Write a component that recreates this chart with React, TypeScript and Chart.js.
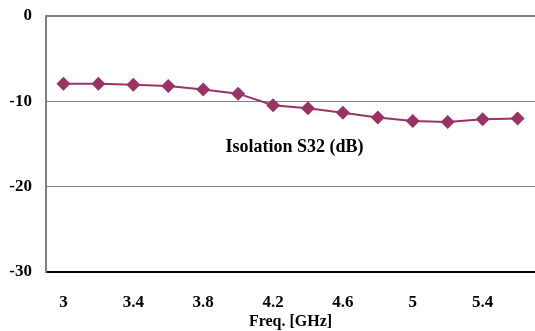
import React, { useEffect, useRef } from "react";
import { Chart, registerables } from "chart.js";

Chart.register(...registerables);

const freqs = ["3", "3.2", "3.4", "3.6", "3.8", "4", "4.2", "4.4", "4.6", "4.8", "5", "5.2", "5.4", "5.6"];
const isolationS32 = [-7.95, -7.95, -8.07, -8.2, -8.6, -9.1, -10.45, -10.8, -11.35, -11.9, -12.3, -12.43, -12.1, -12.0];
const seriesLabel = "Isolation S32 (dB)";
const xTitle = "Freq. [GHz]";

const innerLabel = {
  id: "innerLabel",
  afterDatasetsDraw(chart: any) {
    const { ctx, chartArea } = chart;
    ctx.save();
    ctx.font = "bold 18px 'Liberation Serif', 'Times New Roman', serif";
    ctx.fillStyle = "#000";
    ctx.textAlign = "center";
    ctx.textBaseline = "middle";
    const x = chartArea.left + (chartArea.right - chartArea.left) * 0.508;
    const y = chartArea.top + (chartArea.bottom - chartArea.top) * 0.512;
    ctx.fillText(seriesLabel, x, y);
    ctx.restore();
  },
};

export default function App() {
  const ref = useRef<HTMLCanvasElement>(null);
  useEffect(() => {
    if (!ref.current) return;
    const font = { family: "'Liberation Serif', 'Times New Roman', serif", weight: "bold" as const, size: 17 };
    const chart = new Chart(ref.current, {
      type: "line",
      data: {
        labels: freqs,
        datasets: [
          {
            label: seriesLabel,
            data: isolationS32,
            borderColor: "#993366",
            backgroundColor: "#993366",
            borderWidth: 2,
            pointStyle: "rectRot",
            pointRadius: 7,
            pointBorderWidth: 0,
            tension: 0,
          },
        ],
      },
      options: {
        responsive: false,
        animation: false,
        layout: { autoPadding: false, padding: { top: 16, left: 0, right: 0, bottom: 0 } },
        plugins: { legend: { display: false }, tooltip: { enabled: false } },
        scales: {
          x: {
            type: "category",
            offset: true,
            grid: { display: false, drawTicks: false },
            border: { display: true, color: "#000", width: 2 },
            ticks: {
              autoSkip: false,
              maxRotation: 0,
              color: "#000",
              font,
              padding: 20,
              callback: (_v: any, i: number) => (i % 2 === 0 ? freqs[i] : ""),
            },
            title: {
              display: true,
              text: xTitle,
              color: "#000",
              font: { ...font, size: 16 },
              padding: { top: 0, bottom: 0 },
            },
            afterFit: (s: any) => {
              s.height = 59;
              s.paddingLeft = 0;
              s.paddingRight = 0;
            },
          },
          y: {
            min: -30,
            max: 0,
            grid: {
              drawTicks: false,
              color: (c: any) => (c.tick && c.tick.value === -30 ? "rgba(0,0,0,0)" : "#808080"),
              lineWidth: (c: any) => (c.tick && c.tick.value === 0 ? 2 : 1),
            },
            border: { display: true, color: "#808080", width: 2 },
            ticks: {
              stepSize: 10,
              color: "#000",
              font,
              padding: 14,
            },
            afterFit: (s: any) => {
              s.width = 46;
              s.paddingTop = 0;
              s.paddingBottom = 0;
            },
          },
        },
      },
      plugins: [innerLabel],
    });
    return () => chart.destroy();
  }, []);
  return (
    <div style={{ position: "absolute", left: 0, top: 0, width: 535, height: 331, background: "#fff" }}>
      <canvas ref={ref} width={535} height={331} />
    </div>
  );
}
